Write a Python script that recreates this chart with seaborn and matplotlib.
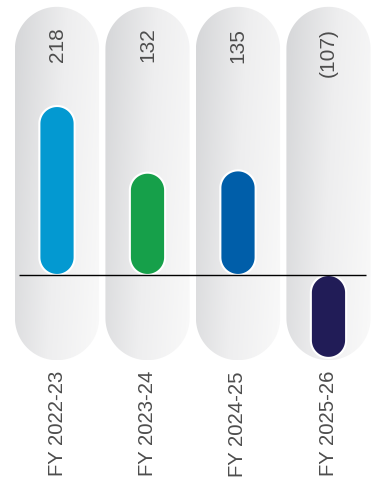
import numpy as np
import matplotlib
matplotlib.use("Agg")
import matplotlib.pyplot as plt
from matplotlib.patches import Polygon
from matplotlib.colors import LinearSegmentedColormap
import seaborn as sns

# Data
categories = ["FY 2022-23", "FY 2023-24", "FY 2024-25", "FY 2025-26"]
values = [218, 132, 135, -107]
value_labels = ["218", "132", "135", "(107)"]
bar_colors = ["#0399d1", "#16a04a", "#005ea9", "#211c57"]

sns.set_theme(style="white")
plt.rcParams["font.family"] = ["Liberation Sans", "DejaVu Sans"]

fig = plt.figure(figsize=(3.75, 4.84), dpi=100)
ax = fig.add_axes([0, 0, 1, 1])

sns.barplot(x=categories, y=values, hue=categories, palette=bar_colors,
            legend=False, width=0.39, ax=ax, saturation=1)

XLIM = (-0.63, 3.514)
YLIM = (-269.7, 354.8)
ax.set_xlim(*XLIM)
ax.set_ylim(*YLIM)
ax.axis("off")

# y data units per x data unit on screen, so caps come out circular
fig.canvas.draw()
bbox = ax.get_window_extent()
aspect = ((YLIM[1] - YLIM[0]) / bbox.height) / ((XLIM[1] - XLIM[0]) / bbox.width)


def stadium(x0, y0, w, h, n=60):
    """Vertical pill shape in data coordinates with semicircular ends."""
    rx = w / 2
    ry = min(rx * aspect, h / 2)
    cx = x0 + rx
    t_top = np.linspace(0, np.pi, n)
    t_bot = np.linspace(np.pi, 2 * np.pi, n)
    top = np.column_stack([cx + rx * np.cos(t_top), y0 + h - ry + ry * np.sin(t_top)])
    bot = np.column_stack([cx + rx * np.cos(t_bot), y0 + ry + ry * np.sin(t_bot)])
    return np.vstack([top, bot])


# Background pills with a soft grey gradient
pill_w = 0.93
pill_top, pill_bottom = 346, -110
grad_cmap = LinearSegmentedColormap.from_list("pill", ["#d5d6d8", "#eeeeef", "#f9f9f9"])
gx, gy = np.meshgrid(np.linspace(0, 1, 64), np.linspace(0, 1, 128))
grad = 0.8 * gx + 0.2 * gy
for i in range(len(categories)):
    x0 = i - pill_w / 2
    pill = Polygon(stadium(x0, pill_bottom, pill_w, pill_top - pill_bottom),
                   closed=True, facecolor="none", edgecolor="none", zorder=0)
    ax.add_patch(pill)
    im = ax.imshow(grad, cmap=grad_cmap, aspect="auto", origin="upper",
                   extent=(x0, x0 + pill_w, pill_bottom, pill_top), zorder=0)
    im.set_clip_path(pill)

# Replace seaborn's rectangles with rounded bars
rects = [p for p in ax.patches if not isinstance(p, Polygon)]
for rect in rects:
    x, w = rect.get_x(), rect.get_width()
    y, h = rect.get_y(), rect.get_height()
    fc = rect.get_facecolor()
    rect.remove()
    bottom = min(y, y + h)
    bar = Polygon(stadium(x, bottom, w, abs(h)), closed=True, facecolor=fc,
                  edgecolor="white", linewidth=1.5, zorder=2)
    ax.add_patch(bar)

ax.set_xlim(*XLIM)
ax.set_ylim(*YLIM)

# Zero line
ax.hlines(0, -0.42, 3.414, color="black", linewidth=1.0, zorder=3)

# Value labels and category labels
for i, (lab, cat) in enumerate(zip(value_labels, categories)):
    ax.text(i, 319, lab, rotation=90, ha="center", va="top",
            fontsize=15, color="#4d4d4d", zorder=4)
    ax.text(i, -124, cat, rotation=90, ha="center", va="top",
            fontsize=14.6, color="#4d4d4d", zorder=4)

fig.savefig("out.png", dpi=100)
